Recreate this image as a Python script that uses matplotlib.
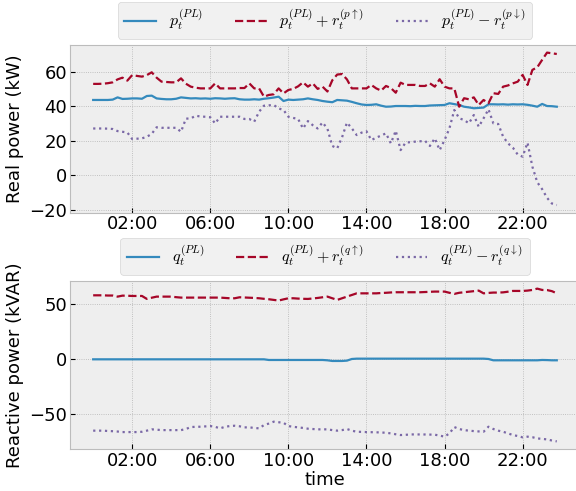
import pandas as pd
import matplotlib
matplotlib.use('Agg')
from matplotlib import pyplot as plt
import matplotlib.dates as mdates

plt.style.use('bmh')

# 15 minute steps over one day
times = pd.date_range('2020-01-01 00:00', periods=96, freq='15min')

## real power (kW)
p_pl = [43.6, 43.6, 43.6, 43.6, 43.8, 45.1, 44.2, 44.3,
        44.5, 44.5, 44.3, 45.9, 46.1, 44.5, 44.2, 44.0,
        44.0, 44.3, 45.1, 44.8, 44.5, 44.6, 44.4, 44.5,
        44.3, 44.6, 44.5, 44.3, 44.5, 44.6, 44.0, 43.8,
        43.8, 44.0, 43.8, 44.3, 44.6, 45.0, 45.5, 43.0,
        43.8, 43.6, 43.8, 44.0, 44.5, 44.0, 43.6, 43.0,
        42.6, 42.3, 43.6, 43.4, 43.2, 42.5, 41.7, 41.0,
        40.7, 40.8, 41.1, 40.3, 39.7, 39.8, 40.1, 40.1,
        40.1, 40.0, 40.2, 40.1, 40.1, 40.4, 40.5, 40.6,
        40.7, 41.7, 41.2, 40.7, 39.7, 39.3, 38.8, 39.0,
        39.2, 41.1, 41.1, 41.0, 41.1, 40.9, 41.1, 41.0,
        41.1, 40.8, 40.3, 39.7, 41.3, 40.1, 40.0, 39.7]

p_up = [52.9, 52.9, 53.0, 53.3, 53.8, 55.5, 56.5, 54.8,
        58.0, 57.5, 57.1, 58.0, 59.6, 56.5, 54.2, 54.0,
        53.8, 53.8, 56.1, 53.0, 51.3, 50.7, 50.3, 50.3,
        50.3, 53.2, 50.3, 50.3, 50.3, 50.3, 50.5, 50.5,
        53.2, 50.3, 50.3, 45.5, 46.5, 46.9, 50.3, 47.4,
        49.4, 50.0, 51.5, 53.8, 51.3, 53.2, 50.0, 51.3,
        48.5, 55.0, 58.3, 58.6, 55.5, 50.3, 50.3, 50.3,
        50.3, 52.3, 50.3, 49.0, 51.7, 50.5, 47.8, 53.6,
        52.3, 52.3, 52.3, 51.7, 51.7, 53.2, 51.3, 55.6,
        51.3, 50.3, 50.3, 39.7, 44.6, 44.0, 45.1, 40.7,
        43.6, 41.7, 47.5, 47.1, 51.3, 52.0, 53.2, 54.2,
        58.1, 52.3, 61.0, 62.5, 66.8, 71.0, 70.6, 70.2]

p_down = [27.1, 27.1, 27.1, 27.0, 26.8, 25.6, 25.2, 24.8,
          21.0, 21.2, 21.4, 22.3, 24.0, 27.8, 27.5, 27.5,
          27.5, 27.5, 25.2, 32.8, 32.9, 34.5, 34.0, 33.9,
          33.6, 30.0, 33.9, 33.9, 33.9, 33.9, 33.9, 32.6,
          32.6, 31.0, 36.8, 40.3, 40.5, 40.7, 38.7, 37.8,
          33.9, 33.2, 32.6, 27.1, 31.4, 29.0, 27.1, 30.6,
          27.0, 17.0, 15.6, 22.0, 30.5, 27.2, 23.3, 24.7,
          25.5, 20.4, 21.8, 23.0, 24.3, 18.5, 25.8, 14.6,
          18.9, 19.2, 19.5, 19.7, 20.0, 17.0, 21.4, 14.6,
          20.4, 27.2, 37.8, 33.0, 32.0, 30.1, 34.9, 28.1,
          33.0, 38.2, 30.1, 29.7, 22.4, 18.5, 16.0, 12.0,
          10.8, 18.9, 5.0, -4.0, -8.0, -13.0, -16.3, -17.2]

## reactive power (kVAR)
q_pl = [-0.3] * 36 + [-0.9] * 12 + \
       [-1.2, -1.8, -1.8, -1.8, -1.5, 0.0, 0.3, 0.3] + [0.3] * 24 + \
       [0.3, 0.0, -1.2, -1.2] + [-1.2] * 8 + [-0.9, -1.0, -1.2, -1.2]

q_up = [58.2, 58.2, 58.2, 58.0, 58.0, 57.0, 57.9, 57.8,
        57.6, 57.6, 57.6, 54.9, 56.0, 57.0, 57.0, 57.0,
        57.0, 56.5, 56.1, 56.1, 56.1, 56.1, 56.1, 56.1,
        56.1, 56.1, 56.1, 55.8, 55.5, 55.5, 56.4, 56.2,
        56.0, 55.8, 55.5, 55.0, 54.6, 54.0, 53.4, 54.5,
        55.5, 55.5, 55.2, 55.0, 54.9, 55.3, 55.8, 56.4,
        57.0, 55.5, 54.0, 55.5, 57.0, 58.5, 60.0, 60.0,
        60.0, 60.0, 60.0, 60.3, 60.5, 60.8, 61.0, 61.0,
        61.0, 61.0, 61.0, 61.0, 61.2, 61.4, 61.6, 61.6,
        61.6, 60.5, 59.5, 60.5, 61.0, 61.5, 62.0, 62.5,
        60.0, 60.4, 60.7, 60.7, 60.9, 61.5, 62.2, 62.2,
        62.2, 62.5, 63.1, 64.3, 63.1, 63.0, 62.0, 60.0]

q_down = [-65.5, -65.5, -65.5, -65.8, -66.0, -66.3, -66.8, -66.8,
          -66.8, -66.8, -66.5, -65.5, -64.3, -64.6, -65.0, -65.0,
          -65.0, -65.0, -65.0, -64.0, -62.2, -62.0, -61.9, -61.6,
          -61.3, -62.0, -63.4, -62.0, -61.3, -61.0, -61.5, -62.5,
          -62.5, -63.0, -63.4, -60.4, -59.0, -57.3, -57.8, -58.3,
          -61.3, -62.0, -62.5, -63.0, -63.7, -64.0, -64.3, -64.3,
          -64.3, -65.0, -65.5, -65.0, -64.0, -65.5, -66.5, -66.6,
          -66.8, -66.9, -67.0, -67.2, -67.4, -68.0, -68.8, -69.5,
          -69.3, -69.0, -68.9, -69.0, -69.0, -69.1, -69.2, -70.0,
          -71.0, -68.0, -62.2, -64.0, -65.0, -65.5, -65.9, -66.2,
          -66.5, -61.9, -64.0, -65.5, -66.5, -68.0, -69.5, -70.4,
          -71.6, -71.0, -71.5, -72.6, -73.0, -73.5, -74.5, -75.3]

fig = plt.figure(figsize=(5.76, 4.91), dpi=100)
ax1 = fig.add_axes([0.1215, 0.5668, 0.8854, 0.3416])
ax2 = fig.add_axes([0.1215, 0.0855, 0.8854, 0.3422])

ax1.plot(times, p_pl, lw=1.6, label=r'$p_t^{(PL)}$')
ax1.plot(times, p_up, lw=1.6, ls='--', label=r'$p_t^{(PL)} + r_t^{(p\uparrow)}$')
ax1.plot(times, p_down, lw=1.6, ls=':', label=r'$p_t^{(PL)} - r_t^{(p\downarrow)}$')
ax1.set_ylabel('Real power (kW)', fontsize=13)
ax1.set_yticks([-20, 0, 20, 40, 60])

ax2.plot(times, q_pl, lw=1.6, label=r'$q_t^{(PL)}$')
ax2.plot(times, q_up, lw=1.6, ls='--', label=r'$q_t^{(PL)} + r_t^{(q\uparrow)}$')
ax2.plot(times, q_down, lw=1.6, ls=':', label=r'$q_t^{(PL)} - r_t^{(q\downarrow)}$')
ax2.set_ylabel('Reactive power (kVAR)', fontsize=13)
ax2.set_xlabel('time', fontsize=13, labelpad=1)
ax2.set_yticks([-50, 0, 50])

for ax in [ax1, ax2]:
    ax.xaxis.set_major_locator(mdates.HourLocator(byhour=range(2, 24, 4)))
    ax.xaxis.set_major_formatter(mdates.DateFormatter('%H:%M'))
    ax.tick_params(labelsize=13, pad=2)
    ax.grid(ls=':', lw=0.6)
    ax.legend(loc='lower center', bbox_to_anchor=(0.5, 1.0), ncol=3, fontsize=11.5,
              borderaxespad=0.4)

plt.savefig('out.png', dpi=100)
